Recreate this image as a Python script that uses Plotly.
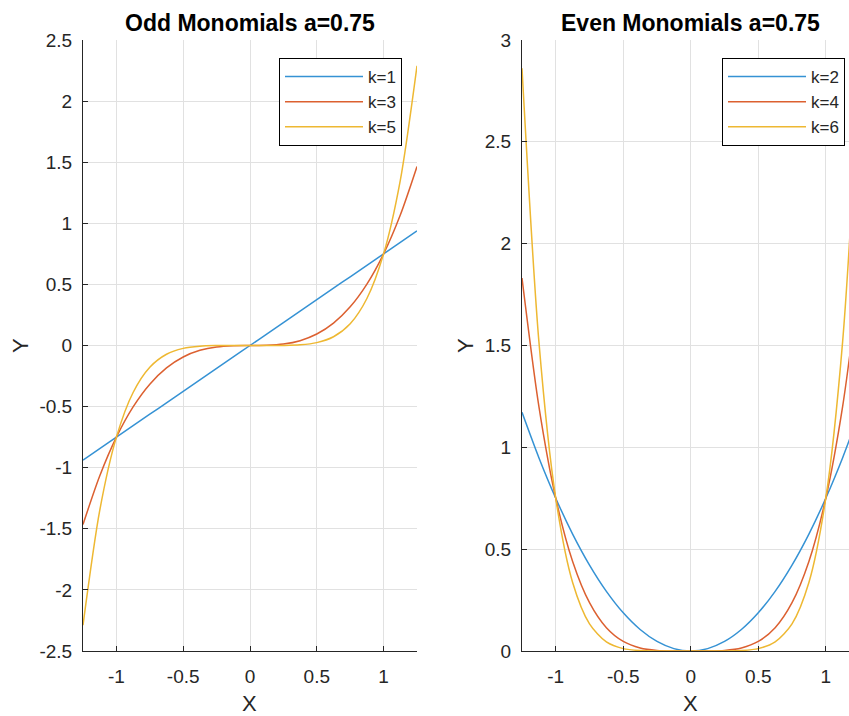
import plotly.graph_objects as go

x_vals = [-1.25, -1.125, -1.0, -0.875, -0.75, -0.625, -0.5, -0.375, -0.25, -0.125, 0.0,
          0.125, 0.25, 0.375, 0.5, 0.625, 0.75, 0.875, 1.0, 1.125, 1.25]

y_k1 = [-0.9375, -0.8438, -0.75, -0.6563, -0.5625, -0.4688, -0.375, -0.2813, -0.1875, -0.0938, 0.0,
        0.0938, 0.1875, 0.2813, 0.375, 0.4688, 0.5625, 0.6563, 0.75, 0.8438, 0.9375]
y_k3 = [-1.4648, -1.0679, -0.75, -0.5024, -0.3164, -0.1831, -0.0938, -0.0396, -0.0117, -0.0015, 0.0,
        0.0015, 0.0117, 0.0396, 0.0938, 0.1831, 0.3164, 0.5024, 0.75, 1.0679, 1.4648]
y_k5 = [-2.2888, -1.3515, -0.75, -0.3847, -0.1780, -0.0715, -0.0234, -0.0056, -0.0007, 0.0, 0.0,
        0.0, 0.0007, 0.0056, 0.0234, 0.0715, 0.1780, 0.3847, 0.75, 1.3515, 2.2888]

y_k2 = [1.1719, 0.9492, 0.75, 0.5742, 0.4219, 0.2930, 0.1875, 0.1055, 0.0469, 0.0117, 0.0,
        0.0117, 0.0469, 0.1055, 0.1875, 0.2930, 0.4219, 0.5742, 0.75, 0.9492, 1.1719]
y_k4 = [1.8311, 1.2014, 0.75, 0.4396, 0.2373, 0.1144, 0.0469, 0.0148, 0.0029, 0.0002, 0.0,
        0.0002, 0.0029, 0.0148, 0.0469, 0.1144, 0.2373, 0.4396, 0.75, 1.2014, 1.8311]
y_k6 = [2.8610, 1.5205, 0.75, 0.3366, 0.1335, 0.0447, 0.0117, 0.0021, 0.0002, 0.0, 0.0,
        0.0, 0.0002, 0.0021, 0.0117, 0.0447, 0.1335, 0.3366, 0.75, 1.5205, 2.8610]

odd_names = ["k=1", "k=3", "k=5"]
even_names = ["k=2", "k=4", "k=6"]
colors = ["#3592D4", "#DC6030", "#EEB832"]

left_title = "Odd Monomials a=0.75"
right_title = "Even Monomials a=0.75"

FONT = "Liberation Sans, Arial, Helvetica, sans-serif"
TXT = "#262626"

fig = go.Figure()
for name, ys, c in zip(odd_names, [y_k1, y_k3, y_k5], colors):
    fig.add_trace(go.Scatter(x=x_vals, y=ys, mode="lines", name=name,
                             line=dict(color=c, width=1.5, shape="spline", smoothing=0.8),
                             xaxis="x", yaxis="y", legend="legend"))
for name, ys, c in zip(even_names, [y_k2, y_k4, y_k6], colors):
    fig.add_trace(go.Scatter(x=x_vals, y=ys, mode="lines", name=name,
                             line=dict(color=c, width=1.5, shape="spline", smoothing=0.8),
                             xaxis="x2", yaxis="y2", legend="legend2"))

W, H = 849, 716
def px_x(p):
    return p / W
def px_y(p):
    return 1 - p / H

axis_common = dict(
    showline=True, linecolor=TXT, linewidth=1,
    ticks="inside", ticklen=5, tickcolor=TXT, tickwidth=1,
    showgrid=True, gridcolor="#E1E1E1", gridwidth=1,
    zeroline=False, mirror=False, automargin=False,
    tickfont=dict(family=FONT, size=19, color=TXT),
)

legend_common = dict(
    xanchor="left", yanchor="top",
    bgcolor="white", bordercolor="#000000", borderwidth=1,
    font=dict(family=FONT, size=17, color=TXT), itemwidth=78,
    tracegroupgap=0,
)

fig.update_layout(
    template="none",
    width=W, height=H,
    margin=dict(l=0, r=0, t=0, b=0, pad=0),
    paper_bgcolor="white", plot_bgcolor="white",
    showlegend=True,
    xaxis=dict(domain=[px_x(83), px_x(417)], range=[-1.25, 1.25],
               tickvals=[-1, -0.5, 0, 0.5, 1], ticktext=["-1", "-0.5", "0", "0.5", "1"],
               anchor="y", ticklabelstandoff=8, **axis_common),
    yaxis=dict(domain=[px_y(651), px_y(40)], range=[-2.5, 2.5],
               tickvals=[-2.5, -2, -1.5, -1, -0.5, 0, 0.5, 1, 1.5, 2, 2.5],
               ticktext=["-2.5", "-2", "-1.5", "-1", "-0.5", "0", "0.5", "1", "1.5", "2", "2.5"],
               anchor="x", ticklabelstandoff=6, **axis_common),
    xaxis2=dict(domain=[px_x(522), 1.0], range=[-1.25, 1.172],
                tickvals=[-1, -0.5, 0, 0.5, 1], ticktext=["-1", "-0.5", "0", "0.5", "1"],
                anchor="y2", ticklabelstandoff=8, **axis_common),
    yaxis2=dict(domain=[px_y(651), px_y(40)], range=[0, 3],
                tickvals=[0, 0.5, 1, 1.5, 2, 2.5, 3],
                ticktext=["0", "0.5", "1", "1.5", "2", "2.5", "3"],
                anchor="x2", ticklabelstandoff=6, **axis_common),
    legend=dict(x=px_x(279), y=px_y(58), **legend_common),
    legend2=dict(x=px_x(722), y=px_y(58), **legend_common),
    annotations=[
        dict(text="<b>" + left_title + "</b>", x=px_x(250), y=px_y(23), xref="paper", yref="paper",
             showarrow=False, xanchor="center", yanchor="middle",
             font=dict(family=FONT, size=23, color="#000000")),
        dict(text="<b>" + right_title + "</b>", x=px_x(690), y=px_y(23), xref="paper", yref="paper",
             showarrow=False, xanchor="center", yanchor="middle",
             font=dict(family=FONT, size=23, color="#000000")),
        dict(text="X", x=px_x(250), y=px_y(703), xref="paper", yref="paper",
             showarrow=False, xanchor="center", yanchor="middle",
             font=dict(family=FONT, size=22, color=TXT)),
        dict(text="X", x=px_x(690), y=px_y(703), xref="paper", yref="paper",
             showarrow=False, xanchor="center", yanchor="middle",
             font=dict(family=FONT, size=22, color=TXT)),
        dict(text="Y", x=px_x(20), y=px_y(346), xref="paper", yref="paper", textangle=-90,
             showarrow=False, xanchor="center", yanchor="middle",
             font=dict(family=FONT, size=22, color=TXT)),
        dict(text="Y", x=px_x(465), y=px_y(346), xref="paper", yref="paper", textangle=-90,
             showarrow=False, xanchor="center", yanchor="middle",
             font=dict(family=FONT, size=22, color=TXT)),
    ],
)

fig.write_html("out.html")
